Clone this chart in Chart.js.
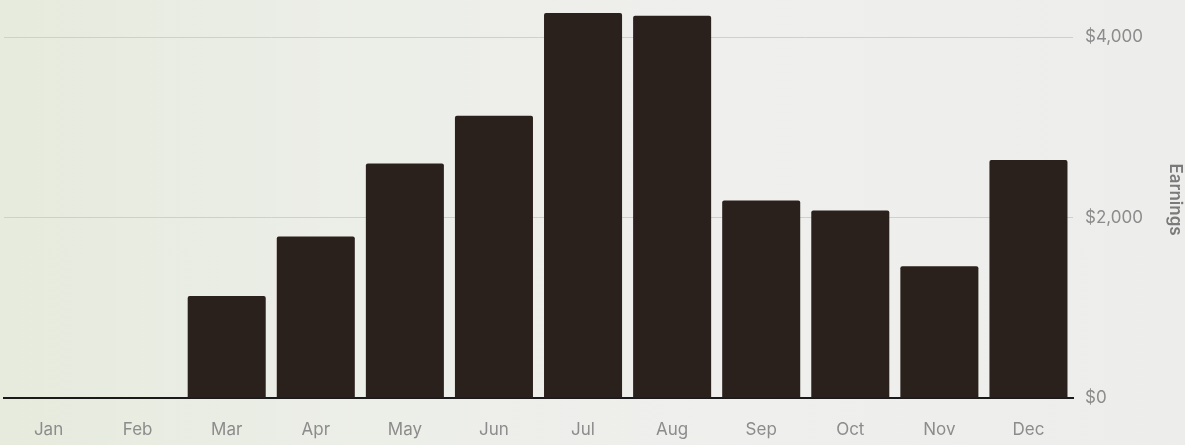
<!DOCTYPE html>
<html>
<head>
<meta charset="utf-8">
<script src="https://cdn.jsdelivr.net/npm/chart.js@4"></script>
<style>
  html, body { margin: 0; padding: 0; }
  body {
    width: 1185px; height: 445px; overflow: hidden;
    background: linear-gradient(90deg, #e6ebdd 0%, #eceee8 30%, #efefed 60%, #ededeb 100%);
  }
  /* shift up so the top tick label padding sits off-screen */
  #wrap { position: relative; top: -21px; width: 1185px; height: 466px; }
</style>
</head>
<body>
<div id="wrap"><canvas id="myChart"></canvas></div>
<script>
// data
const months = ['Jan', 'Feb', 'Mar', 'Apr', 'May', 'Jun', 'Jul', 'Aug', 'Sep', 'Oct', 'Nov', 'Dec'];
const earnings = [0, 0, 1130, 1790, 2600, 3130, 4270, 4240, 2190, 2080, 1460, 2640];
const yTicks = [0, 2000, 4000];

const tickColor = '#8c8c8c';

const ctx = document.getElementById('myChart').getContext('2d');
const myChart = new Chart(ctx, {
  type: 'bar',
  data: {
    labels: months,
    datasets: [{
      label: 'Earnings',
      data: earnings,
      backgroundColor: '#2a211d',
      borderRadius: 2,
      borderSkipped: 'bottom',
      barPercentage: 0.876,
      categoryPercentage: 1
    }]
  },
  options: {
    responsive: true,
    maintainAspectRatio: false,
    animation: false,
    layout: { padding: { left: 4 } },
    plugins: {
      legend: { display: false },
      tooltip: { enabled: false }
    },
    scales: {
      x: {
        grid: { display: false, drawTicks: false },
        border: { display: true, color: '#1a1a1a', width: 2 },
        ticks: {
          color: tickColor,
          padding: 22,
          font: { family: 'Inter, "Noto Sans", sans-serif', size: 17 }
        },
        afterFit(scale) { scale.height = 47; }
      },
      y: {
        position: 'right',
        min: 0,
        max: 4400,
        afterBuildTicks(scale) { scale.ticks = yTicks.map(v => ({ value: v })); },
        grid: { color: '#cfd0cc', lineWidth: 1, drawTicks: false },
        border: { display: false },
        ticks: {
          color: tickColor,
          padding: 12,
          font: { family: 'Inter, "Noto Sans", sans-serif', size: 17 },
          callback: v => '$' + v.toLocaleString('en-US')
        },
        title: {
          display: true,
          text: 'Earnings',
          color: '#7a7a7a',
          padding: { top: 0, bottom: 10 },
          font: { family: 'Inter, "Noto Sans", sans-serif', size: 17, weight: '600' }
        },
        afterFit(scale) { scale.width = 112; }
      }
    }
  }
});
</script>
</body>
</html>
